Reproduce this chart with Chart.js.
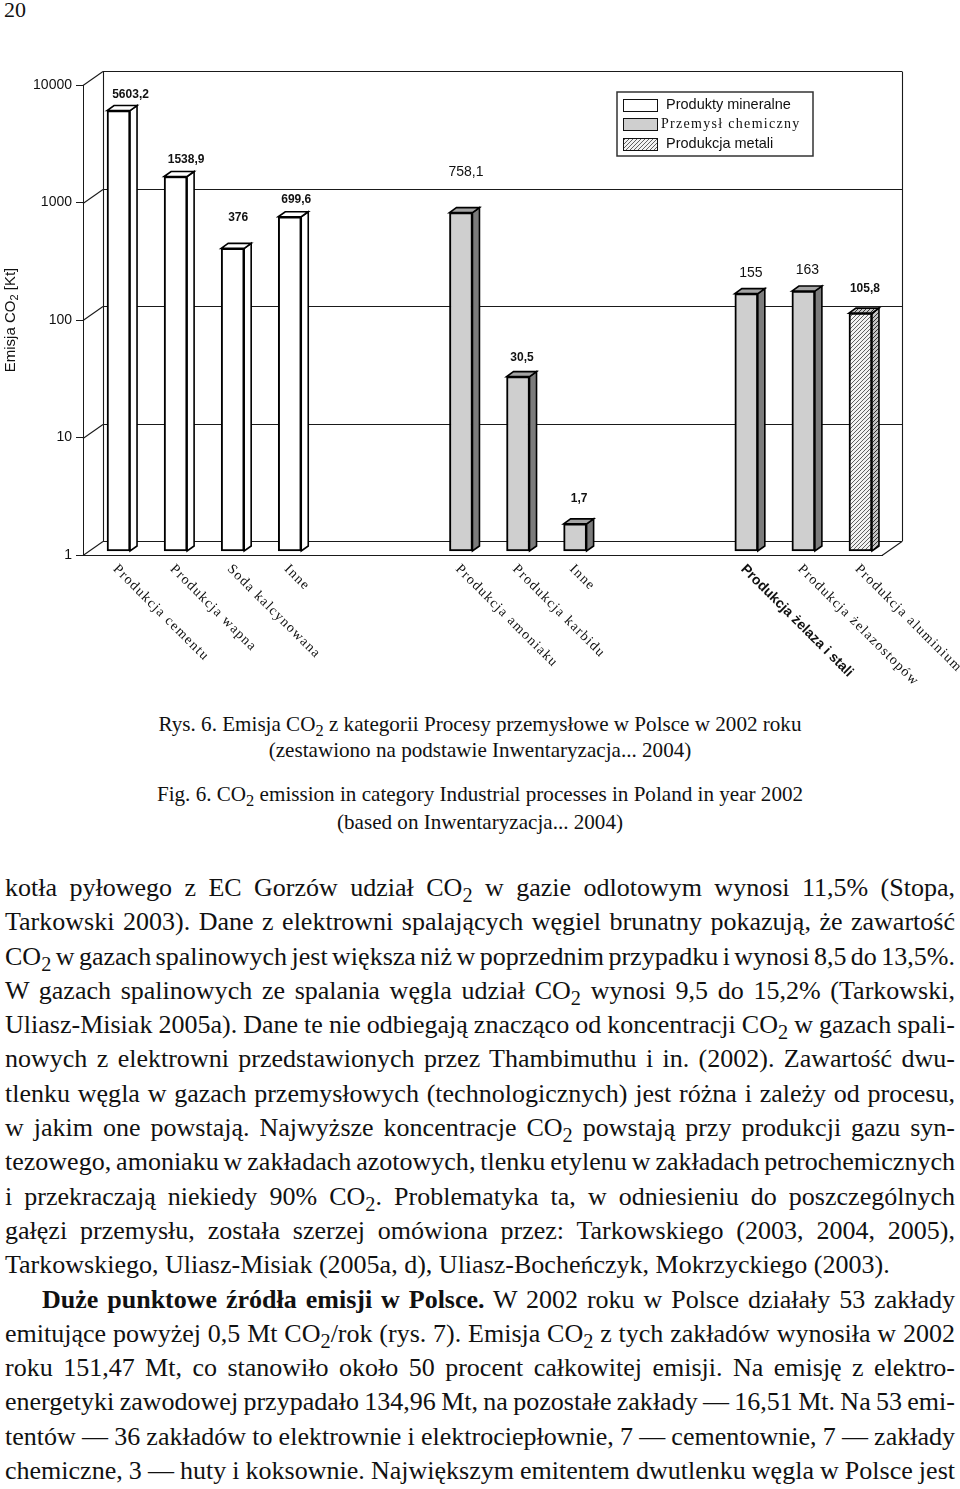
<!DOCTYPE html>
<html><head><meta charset="utf-8">
<script src="https://cdn.jsdelivr.net/npm/chart.js@4.4.1/dist/chart.umd.min.js"></script>
<style>
html,body{margin:0;padding:0;background:#fff;}
body{width:960px;height:1489px;position:relative;overflow:hidden;font-family:"Liberation Serif","Times New Roman",serif;color:#111;}
#c{position:absolute;left:0;top:0;}
.pg{position:absolute;left:4px;top:-1px;font-size:22px;line-height:22px;}
.cap{position:absolute;left:0;width:960px;text-align:center;font-size:20px;line-height:26px;white-space:nowrap;}
sub{font-size:0.78em;vertical-align:-0.32em;line-height:0;}
#body{position:absolute;left:5px;top:871px;width:950px;font-size:22px;}
#body div{height:34.3px;line-height:34.3px;white-space:nowrap;}
#body div.ind{padding-left:37px;}
</style>
</head><body>
<div class="pg">20</div>
<canvas id="c" width="960" height="700"></canvas>

<div class="cap" id="cap1" style="top:711px">Rys. 6. Emisja CO<sub>2</sub> z kategorii Procesy przemysłowe w Polsce w 2002 roku</div>
<div class="cap" style="top:737px">(zestawiono na podstawie Inwentaryzacja... 2004)</div>
<div class="cap" style="top:781px">Fig. 6. CO<sub>2</sub> emission in category Industrial processes in Poland in year 2002</div>
<div class="cap" style="top:809px">(based on Inwentaryzacja... 2004)</div>

<div id="body">
<div><span>kotła pyłowego z EC Gorzów udział CO<sub>2</sub> w gazie odlotowym wynosi 11,5% (Stopa,</span></div>
<div><span>Tarkowski 2003). Dane z elektrowni spalających węgiel brunatny pokazują, że zawartość</span></div>
<div><span>CO<sub>2</sub> w gazach spalinowych jest większa niż w poprzednim przypadku i wynosi 8,5 do 13,5%.</span></div>
<div><span>W gazach spalinowych ze spalania węgla udział CO<sub>2</sub> wynosi 9,5 do 15,2% (Tarkowski,</span></div>
<div><span>Uliasz-Misiak 2005a). Dane te nie odbiegają znacząco od koncentracji CO<sub>2</sub> w gazach spali-</span></div>
<div><span>nowych z elektrowni przedstawionych przez Thambimuthu i in. (2002). Zawartość dwu-</span></div>
<div><span>tlenku węgla w gazach przemysłowych (technologicznych) jest różna i zależy od procesu,</span></div>
<div><span>w jakim one powstają. Najwyższe koncentracje CO<sub>2</sub> powstają przy produkcji gazu syn-</span></div>
<div><span>tezowego, amoniaku w zakładach azotowych, tlenku etylenu w zakładach petrochemicznych</span></div>
<div><span>i przekraczają niekiedy 90% CO<sub>2</sub>. Problematyka ta, w odniesieniu do poszczególnych</span></div>
<div><span>gałęzi przemysłu, została szerzej omówiona przez: Tarkowskiego (2003, 2004, 2005),</span></div>
<div class="last"><span id="fitline">Tarkowskiego, Uliasz-Misiak (2005a, d), Uliasz-Bocheńczyk, Mokrzyckiego (2003).</span></div>
<div class="ind"><span><b>Duże punktowe źródła emisji w Polsce.</b> W 2002 roku w Polsce działały 53 zakłady</span></div>
<div><span>emitujące powyżej 0,5 Mt CO<sub>2</sub>/rok (rys. 7). Emisja CO<sub>2</sub> z tych zakładów wynosiła w 2002</span></div>
<div><span>roku 151,47 Mt, co stanowiło około 50 procent całkowitej emisji. Na emisję z elektro-</span></div>
<div><span>energetyki zawodowej przypadało 134,96 Mt, na pozostałe zakłady — 16,51 Mt. Na 53 emi-</span></div>
<div><span>tentów — 36 zakładów to elektrownie i elektrociepłownie, 7 — cementownie, 7 — zakłady</span></div>
<div><span>chemiczne, 3 — huty i koksownie. Największym emitentem dwutlenku węgla w Polsce jest</span></div>
</div>

<script>
// ---------- DATA ----------
const categories = ['Produkcja cementu','Produkcja wapna','Soda kalcynowana','Inne','','',
  'Produkcja amoniaku','Produkcja karbidu','Inne','','',
  'Produkcja żelaza i stali','Produkcja żelazostopów','Produkcja aluminium'];
const seriesNames = ['Produkty mineralne','Przemysł chemiczny','Produkcja metali'];
const mineralValues  = [5603.2,1538.9,376,699.6,null,null,null,null,null,null,null,null,null,null];
const chemicalValues = [null,null,null,null,null,null,758.1,30.5,1.7,null,null,null,null,null];
const metalValues    = [null,null,null,null,null,null,null,null,null,null,null,155,163,105.8];
const yTicks = [1,10,100,1000,10000];

// ---------- STYLE ----------
const WALL = {dx:20, dy:-14};
const BAR_SHIFT = {dx:7, dy:-4};
const BAR_DEPTH = {dx:7, dy:-5};
const valueLabelBold = [1,1,1,1,0,0,0,1,1,0,0,0,0,1];
const valueLabelOffset = [[12,16],[10.5,16.5],[5.5,31],[6.5,17.5],[0,0],[0,0],[5,40],[4,18.5],[4,25],[0,0],[0,0],[4.5,20.5],[4,20.5],[4.5,24]];
const boldSansLabel = [0,0,0,0,0,0,0,0,0,0,0,1,0,0];

function hatch(bg, fg, lw){
  const p = document.createElement('canvas'); p.width = 4; p.height = 4;
  const g = p.getContext('2d');
  g.fillStyle = bg; g.fillRect(0,0,4,4);
  g.strokeStyle = fg; g.lineWidth = lw;
  g.beginPath();
  g.moveTo(-1,5); g.lineTo(5,-1);
  g.moveTo(-1,1); g.lineTo(1,-1);
  g.moveTo(3,5); g.lineTo(5,3);
  g.stroke();
  return g.createPattern(p,'repeat');
}
const hatchFront = hatch('#f2f2f2','#3a3a3a',0.8);
const hatchSide = hatch('#c4c4c4','#222',0.9);

function barStyle(ds, i){
  if (ds === 0) return {front:'#ffffff', side:'#ffffff', top:'#ffffff'};
  if (ds === 2 && i === 13) return {front:hatchFront, side:hatchSide, top:hatchSide};
  return {front:'#cfcfcf', side:'#7c7c7c', top:'#a4a4a4'};
}
const frontFill = (c)=>barStyle(c.datasetIndex, c.dataIndex).front;

const threeD = {
  id:'threeD',
  beforeDatasetsDraw(chart){
    const {ctx, chartArea:a, scales:{y}} = chart;
    ctx.save();
    ctx.strokeStyle = '#1a1a1a'; ctx.lineWidth = 1.1;
    const L = a.left, R = a.right, B = a.bottom;
    const ln = (x1,y1,x2,y2)=>{ctx.beginPath();ctx.moveTo(x1,y1);ctx.lineTo(x2,y2);ctx.stroke();};
    yTicks.forEach(t=>{
      const py = Math.round(y.getPixelForValue(t)) + 0.5;
      ln(L, py, L+WALL.dx, py+WALL.dy);
      ln(L+WALL.dx, py+WALL.dy, R+WALL.dx, py+WALL.dy);
    });
    const topY = Math.round(y.getPixelForValue(yTicks[yTicks.length-1])) + 0.5 + WALL.dy;
    const botY = Math.round(B) + 0.5 + WALL.dy;
    ln(L+WALL.dx+0.5, topY, L+WALL.dx+0.5, botY);
    ln(R+WALL.dx+0.5, topY, R+WALL.dx+0.5, botY);
    ln(R, B+0.5, R+WALL.dx, B+0.5+WALL.dy);
    ctx.restore();
    ctx.save();
    ctx.translate(BAR_SHIFT.dx, BAR_SHIFT.dy);
  },
  afterDatasetsDraw(chart){
    const ctx = chart.ctx;
    chart.data.datasets.forEach((d, di)=>{
      const meta = chart.getDatasetMeta(di);
      meta.data.forEach((el, i)=>{
        if (d.data[i] == null) return;
        const {x, y, base, width} = el.getProps(['x','y','base','width'], true);
        const L = x - width/2, R = x + width/2;
        const st = barStyle(di, i);
        ctx.lineWidth = 1.6; ctx.strokeStyle = '#000'; ctx.lineJoin = 'miter';
        ctx.beginPath(); ctx.moveTo(R,y); ctx.lineTo(R+BAR_DEPTH.dx,y+BAR_DEPTH.dy);
        ctx.lineTo(R+BAR_DEPTH.dx,base+BAR_DEPTH.dy); ctx.lineTo(R,base); ctx.closePath();
        ctx.fillStyle = st.side; ctx.fill(); ctx.stroke();
        ctx.beginPath(); ctx.moveTo(L,y); ctx.lineTo(L+BAR_DEPTH.dx,y+BAR_DEPTH.dy);
        ctx.lineTo(R+BAR_DEPTH.dx,y+BAR_DEPTH.dy); ctx.lineTo(R,y); ctx.closePath();
        ctx.fillStyle = st.top; ctx.fill(); ctx.stroke();
      });
    });
    ctx.restore();
    // value labels
    ctx.save();
    ctx.fillStyle = '#111'; ctx.textAlign = 'center'; ctx.textBaseline = 'middle';
    chart.data.datasets.forEach((d, di)=>{
      const meta = chart.getDatasetMeta(di);
      meta.data.forEach((el, i)=>{
        const v = d.data[i];
        if (v == null) return;
        const off = valueLabelOffset[i];
        ctx.font = valueLabelBold[i] ? 'bold 12px "Liberation Sans"' : '14px "Liberation Sans"';
        ctx.fillText(String(v).replace('.', ','), el.x + BAR_SHIFT.dx + off[0], el.y + BAR_SHIFT.dy - off[1]);
      });
    });
    ctx.restore();
  },
  afterDraw(chart){
    const {ctx, scales:{x}} = chart;
    ctx.save();
    ctx.fillStyle = '#111'; ctx.textAlign = 'left'; ctx.textBaseline = 'top';
    categories.forEach((c, i)=>{
      if (!c) return;
      const px = x.getPixelForValue(i) + BAR_SHIFT.dx;
      ctx.save();
      ctx.translate(px + 1.5, 562);
      ctx.rotate(Math.PI/4);
      if (boldSansLabel[i]) { ctx.font = 'bold 14px "Liberation Sans"'; ctx.letterSpacing = '0px'; }
      else { ctx.font = '14px "Liberation Serif"'; ctx.letterSpacing = '1.3px'; }
      ctx.fillText(c, 0, 0);
      ctx.restore();
    });
    ctx.restore();
    // y title with subscript
    ctx.save();
    ctx.translate(11, 320); ctx.rotate(-Math.PI/2);
    ctx.fillStyle = '#111'; ctx.textBaseline = 'middle'; ctx.textAlign = 'left';
    const f = '15px "Liberation Sans"', fs = '11px "Liberation Sans"';
    ctx.font = f; const w1 = ctx.measureText('Emisja CO').width, w3 = ctx.measureText(' [Kt]').width;
    ctx.font = fs; const w2 = ctx.measureText('2').width;
    let sx = -(w1+w2+w3)/2;
    ctx.font = f; ctx.fillText('Emisja CO', sx, 0); sx += w1;
    ctx.font = fs; ctx.fillText('2', sx, 4); sx += w2;
    ctx.font = f; ctx.fillText(' [Kt]', sx, 0);
    ctx.restore();
    // legend
    ctx.save();
    ctx.strokeStyle = '#333'; ctx.lineWidth = 1.5;
    ctx.fillStyle = '#fff';
    ctx.fillRect(617, 92, 196, 64);
    ctx.strokeRect(617, 92, 196, 64);
    const rows = [105, 124, 144];
    const fills = [barStyle(0,0).front, barStyle(1,6).front, barStyle(2,13).front];
    seriesNames.forEach((n, k)=>{
      ctx.fillStyle = fills[k];
      ctx.fillRect(623, rows[k]-6, 34, 12);
      ctx.strokeStyle = '#111'; ctx.lineWidth = 1;
      ctx.strokeRect(623.5, rows[k]-5.5, 34, 12);
      ctx.fillStyle = '#111'; ctx.textBaseline = 'middle'; ctx.textAlign = 'left';
      if (k === 1) { ctx.font = '14px "Liberation Serif"'; ctx.letterSpacing = '1.3px'; ctx.fillText(n, 661, rows[k]); ctx.letterSpacing = '0px'; }
      else { ctx.font = '14.5px "Liberation Sans"'; ctx.fillText(n, 666, rows[k]); }
    });
    ctx.restore();
  }
};

const barDefaults = {grouped:false, barThickness:23, clip:false, backgroundColor:frontFill,
  borderColor:'#000', borderWidth:2, borderSkipped:false};

new Chart(document.getElementById('c').getContext('2d'), {
  type:'bar',
  data:{
    labels:categories,
    datasets:[
      Object.assign({label:seriesNames[0], data:mineralValues}, barDefaults),
      Object.assign({label:seriesNames[1], data:chemicalValues}, barDefaults),
      Object.assign({label:seriesNames[2], data:metalValues}, barDefaults)
    ]
  },
  options:{
    responsive:false, animation:false, devicePixelRatio:1,
    layout:{padding:{top:85, right:78, bottom:0, left:0}},
    plugins:{legend:{display:false}, tooltip:{enabled:false}, colors:{enabled:false}},
    scales:{
      x:{type:'category', offset:true, grid:{display:false, drawTicks:false}, ticks:{display:false},
         border:{display:true, color:'#1a1a1a', width:1}, afterFit:(s)=>{s.height = 145;}},
      y:{type:'logarithmic', min:1, max:10000,
         afterBuildTicks:(s)=>{s.ticks = yTicks.map(v=>({value:v}));},
         ticks:{callback:(v)=>String(v), autoSkip:false, padding:4, color:'#111', font:{family:'Liberation Sans', size:14}},
         grid:{drawOnChartArea:false, drawTicks:true, tickLength:7, color:'#1a1a1a'},
         border:{display:true, color:'#1a1a1a', width:1},
         afterFit:(s)=>{s.width = 83;}}
    }
  },
  plugins:[threeD]
});

// ---------- text fitting ----------
(function(){
  const cap = document.getElementById('cap1');
  const capSpan = document.createElement('span'); capSpan.innerHTML = cap.innerHTML; cap.innerHTML = ''; cap.appendChild(capSpan);
  const cw = capSpan.getBoundingClientRect().width;
  const capFs = 20 * 643 / cw;
  document.querySelectorAll('.cap').forEach(e=>e.style.fontSize = capFs + 'px');

  const body = document.getElementById('body');
  const w = document.getElementById('fitline').getBoundingClientRect().width;
  body.style.fontSize = (22 * 885 / w) + 'px';
  [...body.children].forEach(d=>{
    if (d.classList.contains('last')) return;
    const span = d.firstElementChild;
    const avail = 950 - (d.classList.contains('ind') ? 37 : 0);
    const n = (span.textContent.match(/ /g) || []).length;
    const nat = span.getBoundingClientRect().width;
    if (n > 0) span.style.wordSpacing = ((avail - nat) / n) + 'px';
  });
})();
</script>
</body></html>
